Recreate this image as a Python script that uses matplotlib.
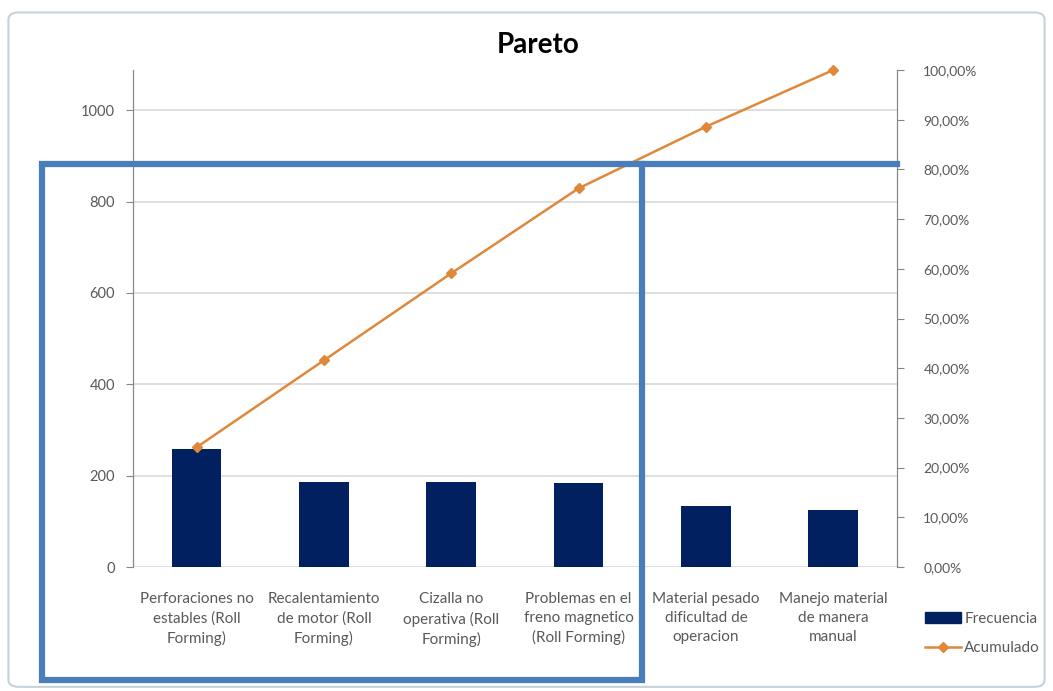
import matplotlib
matplotlib.use("Agg")
import matplotlib.pyplot as plt
import numpy as np
from matplotlib.patches import Rectangle, FancyBboxPatch, Patch
from matplotlib.lines import Line2D
from matplotlib.ticker import FuncFormatter

plt.rcParams['font.family'] = ['Lato', 'DejaVu Sans']

categorias = [
    "Perforaciones no\nestables (Roll\nForming)",
    "Recalentamiento\nde motor (Roll\nForming)",
    "Cizalla no\noperativa (Roll\nForming)",
    "Problemas en el\nfreno magnetico\n(Roll Forming)",
    "Material pesado\ndificultad de\noperacion",
    "Manejo material\nde manera\nmanual",
]
frecuencia = [259, 187, 187, 183, 133, 124]
acumulado = [0.241, 0.416, 0.591, 0.762, 0.886, 1.0]
left_ticks = [0, 200, 400, 600, 800, 1000]
right_ticks = [0.0, 0.1, 0.2, 0.3, 0.4, 0.5, 0.6, 0.7, 0.8, 0.9, 1.0]

navy = "#002060"
orange = "#e0883a"
blue = "#4a7ebb"
gray_txt = "#595959"
grid_c = "#d9d9d9"

fig = plt.figure(figsize=(10.53, 6.91), dpi=100)
ax = fig.add_axes([0.1263, 0.1794, 0.7255, 0.7193])
ax2 = ax.twinx()

x = np.arange(len(categorias))
ax.bar(x, frecuencia, width=0.39, color=navy, zorder=3, label="Frecuencia")
ax2.plot(x, acumulado, color=orange, lw=1.8, marker="D", ms=5,
         zorder=4, clip_on=False, label="Acumulado")

ax.set_xlim(-0.5, len(categorias) - 0.5)
ax.set_ylim(0, 1088)
ax2.set_ylim(0, 1.0)

ax.set_yticks(left_ticks)
ax.set_yticklabels([str(v) for v in left_ticks])
ax2.set_yticks(right_ticks)
ax2.yaxis.set_major_formatter(FuncFormatter(lambda v, p: f"{v*100:.2f}%".replace(".", ",")))

ax.set_xticks(x)
ax.set_xticklabels(categorias, fontsize=11, color=gray_txt, linespacing=1.45)
ax.tick_params(axis="x", length=0, pad=18)
ax.tick_params(axis="y", colors=gray_txt, labelsize=10.5, length=5, width=0.8,
               color="#868686", pad=8)
ax2.tick_params(axis="y", colors=gray_txt, labelsize=10, length=5, width=0.8,
                color="#868686", pad=14)

ax.yaxis.grid(True, color=grid_c, lw=1.2, zorder=0)
ax.set_axisbelow(True)
for a in (ax, ax2):
    a.spines["top"].set_visible(False)
    a.spines["bottom"].set_visible(False)
    a.spines["left"].set_color("#868686")
    a.spines["right"].set_color("#868686")

ax.set_title("Pareto", fontsize=20, fontweight="bold", color="black", pad=12,
             y=1.0)
ax.title.set_position((0.53, 1.0))

# blue highlight frame (vital few)
fig.add_artist(Rectangle((0.0399, 0.0159), 0.5698, 0.7468, transform=fig.transFigure,
                         fill=False, edgecolor=blue, lw=4.5, zorder=10))
fig.add_artist(Line2D([0.6097, 0.8518], [0.7627, 0.7627], transform=fig.transFigure,
                      color=blue, lw=4.5, zorder=10))

# outer chart border
fig.add_artist(FancyBboxPatch((0.008, 0.006), 0.984, 0.976, boxstyle="round,pad=0,rounding_size=0.01",
                              transform=fig.transFigure, fill=False,
                              edgecolor="#c5d3d8", lw=1.5))

handles = [Patch(facecolor=navy, edgecolor=navy),
           Line2D([0], [0], color=orange, lw=1.8, marker="D", ms=5)]
fig.legend(handles, ["Frecuencia", "Acumulado"], loc="center left",
           bbox_to_anchor=(0.865, 0.083), frameon=False, fontsize=11,
           labelcolor=gray_txt, handlelength=2.4, handletextpad=0.2,
           labelspacing=1.0)

fig.savefig("out.png", dpi=100)
